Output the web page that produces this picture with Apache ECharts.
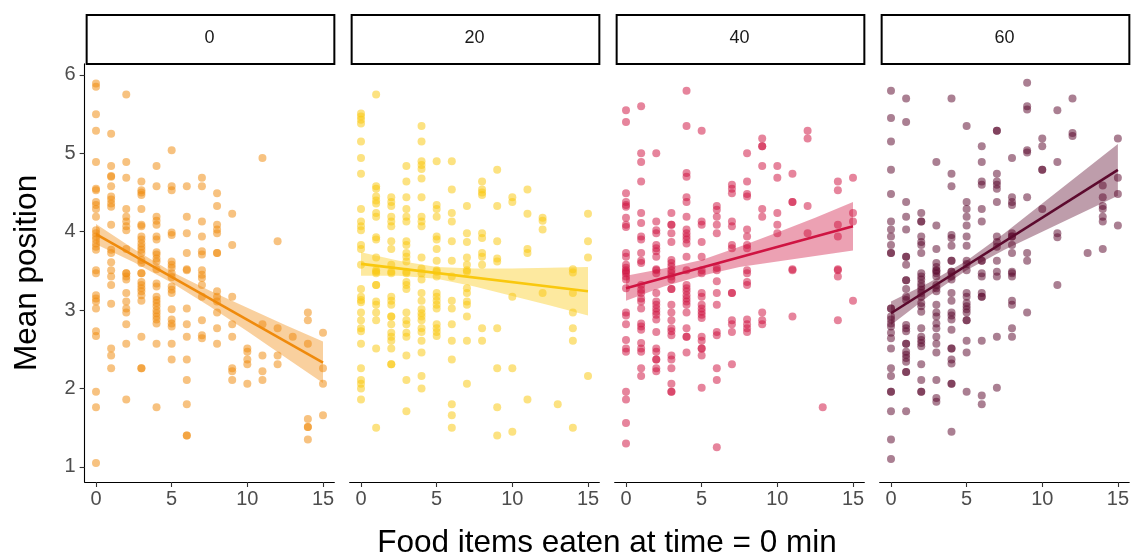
<!DOCTYPE html>
<html>
<head>
<meta charset="utf-8">
<script src="https://cdn.jsdelivr.net/npm/echarts@6/dist/echarts.min.js"></script>
<style>
  html, body { margin: 0; padding: 0; background: #ffffff; }
  #chart { width: 1132px; height: 557px; }
</style>
</head>
<body>
<div id="chart"></div>
<script>
// Facet labels: time (min) at which position was recorded
const facets = ['0', '20', '40', '60'];
const colors = ['#EF8A0C', '#F9C80E', '#CF1442', '#5C0A2E'];

// Mean position per bird, grouped by food items eaten (array index = food items, 0..15)
const pos0 = [
  [5.89,5.85,5.50,5.29,4.89,4.55,4.53,4.38,4.34,4.29,4.19,4.02,3.98,3.94,3.90,3.85,3.81,3.77,3.51,3.47,3.19,3.15,3.11,3.02,2.73,2.67,1.96,1.76,1.05],
  [5.25,4.84,4.71,4.70,4.58,4.45,4.41,4.36,4.32,4.09,3.77,3.73,3.61,3.51,3.43,3.32,3.08,2.51,2.42,2.26],
  [5.75,4.89,4.69,4.29,4.19,4.13,4.07,4.02,3.78,3.47,3.47,3.43,3.39,3.22,3.11,3.02,2.97,2.82,2.57,1.86],
  [4.64,4.53,4.50,4.47,4.29,4.09,4.07,3.94,3.90,3.85,3.81,3.77,3.73,3.64,3.60,3.47,3.47,3.36,3.32,3.28,3.24,3.19,3.12,2.66,2.26,2.26],
  [4.84,4.58,4.19,4.14,4.09,3.94,3.90,3.74,3.71,3.66,3.62,3.52,3.34,3.30,3.17,3.13,3.09,3.05,3.00,2.96,2.92,2.88,2.83,2.57,1.76],
  [5.04,4.58,4.53,3.99,3.96,3.62,3.58,3.54,3.47,3.42,3.30,3.26,3.22,3.01,2.88,2.83,2.79,2.57,2.37],
  [4.58,4.19,3.98,3.73,3.52,3.51,3.02,2.82,2.66,2.37,2.11,1.80,1.40,1.40],
  [4.69,4.58,4.13,3.94,3.75,3.71,3.51,3.45,3.41,3.32,3.17,2.87,2.68,2.64],
  [4.49,4.33,4.09,4.03,3.98,3.73,3.73,3.24,3.17,3.11,2.97,2.77,2.57],
  [4.23,3.83,3.17,2.82,2.66,2.26,2.22,2.11],
  [2.51,2.47,2.37,2.31,2.06],
  [4.94,2.82,2.42,2.22,2.11],
  [3.88,2.77,2.42,2.31],
  [2.66],
  [2.97,2.87,2.57,1.61,1.51,1.51,1.35],
  [2.71,2.26,2.06,1.66]
];
const pos20 = [
  [5.51,5.47,5.43,5.38,5.15,4.94,4.74,4.29,4.13,4.07,4.02,3.83,3.78,3.58,3.27,3.17,3.13,3.10,2.97,2.87,2.77,2.73,2.57,2.26,2.11,2.06,2.00,1.86],
  [5.75,4.58,4.55,4.45,4.40,4.36,4.24,4.19,3.93,3.90,3.67,3.49,3.51,3.47,3.32,3.32,3.11,3.07,2.97,2.87,2.51,1.50],
  [4.44,4.38,4.33,4.19,4.13,4.07,3.88,3.78,3.58,3.49,3.47,3.17,3.12,3.07,2.92,2.92,2.82,2.71,2.66,2.61,2.51,2.31,2.31],
  [4.84,4.64,4.44,4.29,4.19,4.13,3.88,3.83,3.73,3.68,3.62,3.49,3.47,3.36,3.32,3.27,2.97,2.87,2.82,2.71,2.66,2.42,2.11,1.71],
  [5.35,5.15,4.90,4.85,4.80,4.68,4.44,4.19,4.13,4.07,3.67,3.53,3.47,3.39,3.22,3.12,3.01,2.96,2.92,2.87,2.77,2.72,2.61,2.46,2.16,2.00],
  [4.90,4.34,4.29,4.19,3.94,3.90,3.78,3.63,3.49,3.51,3.43,3.22,3.17,3.12,3.07,3.02,2.82,2.77,2.72,2.67],
  [4.90,4.54,4.24,4.13,3.88,3.63,3.43,3.12,3.02,2.82,2.61,2.37,1.80,1.66,1.50],
  [4.33,3.98,3.87,3.67,3.58,3.49,3.51,3.28,3.22,3.11,3.07,2.92,2.61,2.06],
  [4.64,4.54,4.50,4.47,3.98,3.92,3.73,3.68,3.58,2.77,2.61],
  [4.79,4.33,3.88,3.66,3.62,2.77,2.26,1.76,1.40],
  [4.44,4.38,3.17,2.26,1.45],
  [4.54,4.23,3.78,3.73,1.86],
  [4.18,4.14,4.03,3.22],
  [1.80],
  [3.52,3.48,3.22,2.97,2.77,2.61,1.50],
  [4.23,3.88,3.67,2.16]
];
const pos40 = [
  [5.55,5.40,4.49,4.38,4.34,4.32,4.18,4.09,4.06,3.73,3.68,3.58,3.54,3.49,3.51,3.47,3.43,3.39,3.28,2.97,2.93,2.82,2.62,2.51,2.47,1.96,1.86,1.56,1.30],
  [5.60,5.00,4.89,4.64,4.24,4.11,3.94,3.90,3.73,3.63,3.60,3.32,3.26,3.22,3.15,3.11,3.02,2.83,2.79,2.75,2.58,2.51,2.47,2.26,2.16],
  [5.00,4.13,4.02,3.98,3.83,3.79,3.75,3.68,3.52,3.51,3.47,3.22,3.11,3.07,3.02,2.98,2.94,2.88,2.72,2.51,2.47,2.37,2.37,2.26,2.22],
  [4.24,4.09,4.09,3.98,3.87,3.64,3.60,3.56,3.51,3.47,3.43,3.39,3.27,3.27,3.07,2.97,2.87,2.77,2.73,2.68,2.42,2.37,2.26,2.06,1.96,1.96],
  [5.80,5.35,4.75,4.70,4.44,4.38,4.19,4.03,3.98,3.94,3.90,3.85,3.68,3.51,3.32,3.28,3.24,3.19,3.15,3.11,3.07,2.97,2.77,2.66,2.66,2.46],
  [5.29,4.13,4.09,3.87,3.68,3.51,3.47,3.22,3.17,3.07,3.02,2.98,2.94,2.90,2.66,2.61,2.51,2.51,2.42,2.01],
  [4.33,4.28,4.19,4.09,3.98,3.54,3.51,3.37,3.22,3.07,2.72,2.68,2.26,2.11,1.25],
  [4.60,4.55,4.49,4.13,4.07,3.83,3.79,3.22,3.22,2.87,2.82,2.72,2.31],
  [5.00,4.64,4.48,4.45,4.03,3.94,3.83,3.79,3.51,3.47,3.36,3.32,2.88,2.82,2.77,2.72],
  [5.19,5.09,5.09,4.84,4.29,4.19,2.97,2.87,2.82],
  [4.84,4.69,4.24,4.09,3.98],
  [4.74,4.38,4.38,3.52,3.51,2.92],
  [5.29,5.19,4.33,3.98],
  [1.76],
  [4.64,4.53,4.09,3.94,3.52,3.51,3.43,2.87],
  [4.69,4.24,4.13,3.12]
];
const pos60 = [
  [5.80,5.45,5.15,4.79,4.48,4.13,4.03,3.94,3.83,3.73,3.73,3.02,3.02,2.92,2.88,2.83,2.79,2.71,2.64,2.51,2.26,2.16,1.96,1.96,1.71,1.35,1.10],
  [5.70,5.40,4.38,4.19,4.03,3.68,3.68,3.58,3.38,3.38,3.27,3.17,3.13,2.81,2.77,2.73,2.57,2.57,2.47,2.43,2.39,2.34,2.21,2.21,1.71],
  [4.24,4.13,4.13,3.94,3.87,3.83,3.73,3.47,3.43,3.39,3.34,3.30,3.26,3.22,3.17,3.09,3.05,2.98,2.77,2.66,2.62,2.58,2.54,2.31,2.11,1.96,1.96],
  [4.89,4.08,3.78,3.60,3.55,3.50,3.51,3.47,3.43,3.32,3.28,3.24,3.07,2.97,2.92,2.83,2.77,2.66,2.57,2.46,2.11,1.88,1.83],
  [5.70,4.74,4.58,3.96,3.92,3.82,3.63,3.63,3.49,3.49,3.43,3.39,3.22,3.12,2.97,2.93,2.88,2.75,2.51,2.51,2.37,2.32,2.06,2.06,1.45],
  [5.35,4.38,4.29,4.19,4.08,3.94,3.82,3.63,3.59,3.51,3.22,3.17,3.09,3.05,3.01,2.97,2.87,2.87,2.61,2.46,1.96],
  [5.09,4.89,4.64,4.60,4.29,4.13,3.63,3.63,3.47,3.43,3.22,3.17,3.17,2.61,1.91,1.80],
  [5.29,5.29,4.74,4.64,4.60,4.55,4.38,3.94,3.87,3.81,3.63,3.49,3.43,2.66,2.01],
  [4.94,4.44,4.38,4.34,3.98,3.94,3.94,3.83,3.73,3.49,3.47,3.43,3.12,3.07,2.77,2.66],
  [5.90,5.60,5.56,5.04,5.01,4.44,3.73,3.63,2.97],
  [5.19,5.09,4.79,4.79,4.29],
  [5.55,4.89,3.98,3.93,3.32],
  [5.70,5.26,5.22],
  [3.73],
  [4.59,4.44,4.33,4.29,4.19,4.13,3.78],
  [5.19,4.69,4.48,4.08]
];
const positions = [pos0, pos20, pos40, pos60];

// Linear fit: fitted mean position at 0 and 15 food items
const fitEnds = [[3.97, 2.33], [3.59, 3.24], [3.28, 4.07], [2.96, 4.79]];

// 95% confidence band of the fit, sampled along food items
const bandX = [0, 2.5, 5, 7.5, 10, 12.5, 15];
const bandLow0  = [3.84, 3.61, 3.35, 3.05, 2.73, 2.40, 2.07];
const bandHigh0 = [4.10, 3.78, 3.49, 3.25, 3.03, 2.81, 2.60];
const bandLow20  = [3.44, 3.44, 3.40, 3.30, 3.18, 3.06, 2.93];
const bandHigh20 = [3.74, 3.63, 3.55, 3.53, 3.53, 3.54, 3.55];
const bandLow40  = [3.12, 3.30, 3.44, 3.55, 3.62, 3.69, 3.76];
const bandHigh40 = [3.44, 3.53, 3.64, 3.81, 3.99, 4.18, 4.38];
const bandLow60  = [2.81, 3.18, 3.51, 3.77, 4.00, 4.23, 4.46];
const bandHigh60 = [3.11, 3.35, 3.63, 3.98, 4.36, 4.74, 5.12];
const bandLow = [bandLow0, bandLow20, bandLow40, bandLow60];
const bandHigh = [bandHigh0, bandHigh20, bandHigh40, bandHigh60];

const xTicks = [0, 5, 10, 15];
const yTicks = [1, 2, 3, 4, 5, 6];

// Layout
const FONT = '"Liberation Sans", Arial, sans-serif';
const panelLeft = [84.65, 349.65, 614.65, 879.65];
const panelWidth = 249.7;
const gridTop = 63.8;
const gridHeight = 418.2;
const stripTop = 14;
const stripHeight = 49;

function hexToRgba(hex, a) {
  const n = parseInt(hex.slice(1), 16);
  return 'rgba(' + ((n >> 16) & 255) + ',' + ((n >> 8) & 255) + ',' + (n & 255) + ',' + a + ')';
}

const grids = [], xAxes = [], yAxes = [], series = [], graphics = [];

facets.forEach((label, i) => {
  grids.push({ left: panelLeft[i], top: gridTop, width: panelWidth, height: gridHeight, containLabel: false });

  xAxes.push({
    type: 'value', gridIndex: i, min: -0.75, max: 15.75,
    axisLine: { show: true, onZero: false, lineStyle: { color: '#000', width: 1.1 } },
    axisTick: { show: true, length: 5, lineStyle: { color: '#333', width: 1.1 }, customValues: xTicks },
    axisLabel: { show: true, margin: 7, color: '#4D4D4D', fontSize: 20, fontFamily: FONT, customValues: xTicks },
    splitLine: { show: false }
  });

  yAxes.push({
    type: 'value', gridIndex: i, min: 0.8075, max: 6.1425,
    show: i === 0,
    axisLine: { show: true, onZero: false, lineStyle: { color: '#000', width: 1.1 } },
    axisTick: { show: true, length: 5, lineStyle: { color: '#333', width: 1.1 }, customValues: yTicks },
    axisLabel: { show: true, margin: 9, color: '#4D4D4D', fontSize: 20, fontFamily: FONT, customValues: yTicks },
    splitLine: { show: false }
  });

  // individual birds
  const pts = [];
  positions[i].forEach((col, food) => col.forEach(v => pts.push([food, v])));
  series.push({
    type: 'scatter', xAxisIndex: i, yAxisIndex: i, data: pts,
    symbol: 'circle', symbolSize: 8, z: 2,
    itemStyle: { color: colors[i], opacity: 0.52 },
    emphasis: { disabled: true }, silent: true
  });

  // confidence band
  const low = bandLow[i], high = bandHigh[i];
  series.push({
    type: 'custom', xAxisIndex: i, yAxisIndex: i, data: [0], z: 3, silent: true,
    renderItem: (params, api) => {
      const upper = bandX.map((x, j) => api.coord([x, high[j]]));
      const lower = bandX.map((x, j) => api.coord([x, low[j]])).reverse();
      return {
        type: 'polygon',
        shape: { points: upper.concat(lower) },
        style: { fill: hexToRgba(colors[i], 0.4), stroke: null }
      };
    }
  });

  // fitted line
  series.push({
    type: 'line', xAxisIndex: i, yAxisIndex: i,
    data: [[0, fitEnds[i][0]], [15, fitEnds[i][1]]],
    showSymbol: false, symbol: 'none', z: 4, silent: true,
    lineStyle: { color: colors[i], width: 2.6 }
  });

  // facet strip
  graphics.push({
    type: 'rect', left: panelLeft[i] + 1, top: stripTop,
    shape: { width: panelWidth - 2, height: stripHeight },
    style: { fill: '#fff', stroke: '#000', lineWidth: 2 }
  });
  graphics.push({
    type: 'text', x: panelLeft[i] + panelWidth / 2, y: stripTop + stripHeight / 2,
    style: { text: label, fill: '#1A1A1A', font: '18px ' + FONT, textAlign: 'center', textVerticalAlign: 'middle' }
  });
});

// axis titles
graphics.push({
  type: 'text', x: 27, y: gridTop + gridHeight / 2, rotation: Math.PI / 2,
  style: { text: 'Mean position', fill: '#000', font: '31.5px ' + FONT, textAlign: 'center', textVerticalAlign: 'middle' }
});
graphics.push({
  type: 'text', x: (panelLeft[0] + panelLeft[3] + panelWidth) / 2, y: 543,
  style: { text: 'Food items eaten at time = 0 min', fill: '#000', font: '31.5px ' + FONT, textAlign: 'center', textVerticalAlign: 'middle' }
});

const chart = echarts.init(document.getElementById('chart'), null, { renderer: 'canvas' });
chart.setOption({
  animation: false,
  backgroundColor: '#ffffff',
  grid: grids,
  xAxis: xAxes,
  yAxis: yAxes,
  series: series,
  graphic: { elements: graphics }
});
</script>
</body>
</html>
